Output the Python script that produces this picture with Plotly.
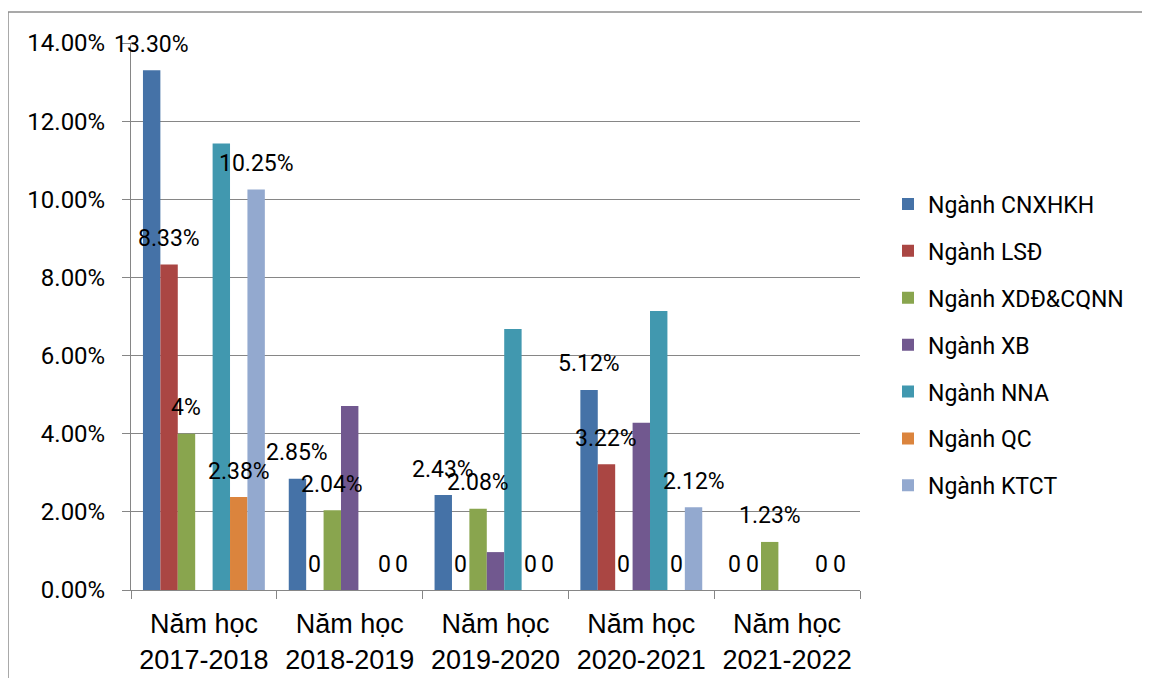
import plotly.graph_objects as go

categories = ["Năm học<br>2017-2018", "Năm học<br>2018-2019", "Năm học<br>2019-2020",
              "Năm học<br>2020-2021", "Năm học<br>2021-2022"]

series_names = ["Ngành CNXHKH", "Ngành LSĐ", "Ngành XDĐ&CQNN", "Ngành XB",
                "Ngành NNA", "Ngành QC", "Ngành KTCT"]

cnxhkh = [0.1330, 0.0285, 0.0243, 0.0512, 0]
lsd = [0.0833, 0, 0, 0.0322, 0]
xdd = [0.0400, 0.0204, 0.0208, 0, 0.0123]
xb = [None, 0.0471, 0.0097, 0.0428, None]
nna = [0.1143, None, 0.0668, 0.0714, None]
qc = [0.0238, 0, 0, 0, 0]
ktct = [0.1025, 0, 0, 0.0212, 0]

cnxhkh_labels = ["13.30%", "2.85%", "2.43%", "5.12%", "0"]
lsd_labels = ["8.33%", "0", "0", "3.22%", "0"]
xdd_labels = ["4%", "2.04%", "2.08%", "0", "1.23%"]
xb_labels = ["", "", "", "", ""]
nna_labels = ["", "", "", "", ""]
qc_labels = ["2.38%", "0", "0", "0", "0"]
ktct_labels = ["10.25%", "0", "0", "2.12%", "0"]

colors = ["#4572A7", "#AA4643", "#89A54E", "#71588F", "#4198AF", "#DB843D", "#93A9CF"]

values = [cnxhkh, lsd, xdd, xb, nna, qc, ktct]
labels = [cnxhkh_labels, lsd_labels, xdd_labels, xb_labels, nna_labels, qc_labels, ktct_labels]

# page has an 8px body margin; compensate so the plot area lands where the reference has it
W, H = 1142, 670
ml, mr, mt, mb = 123, 290, 35, 88
pw, ph = W - ml - mr, H - mt - mb
BARGAP = 0.164
n_series = len(series_names)
bar_px = pw / len(categories) * (1 - BARGAP) / n_series

fig = go.Figure()
annotations = []
for i, (name, vals, labs, col) in enumerate(zip(series_names, values, labels, colors)):
    fig.add_trace(go.Bar(
        name=name, x=categories, y=vals,
        marker=dict(color=col, line=dict(width=0)),
        legendgroup=name,
    ))
    for cat, v, t in zip(categories, vals, labs):
        if t and v is not None:
            annotations.append(dict(
                x=cat, y=v, xref="x", yref="y", text=t, showarrow=False,
                xshift=(i - (n_series - 1) / 2) * bar_px, yshift=26,
                yanchor="middle", xanchor="center",
                font=dict(family="Roboto", size=23, color="#000000"),
            ))

fig.update_layout(
    width=W, height=H,
    margin=dict(l=ml, r=mr, t=mt, b=mb, pad=0, autoexpand=False),
    paper_bgcolor="white", plot_bgcolor="white",
    barmode="group", bargap=BARGAP, bargroupgap=0,
    font=dict(family="Roboto", size=23, color="#000000"),
    legend=dict(
        x=(880 - ml) / pw, xanchor="left",
        y=(582 - 337) / ph, yanchor="middle",
        traceorder="grouped", tracegroupgap=14,
        font=dict(family="Roboto", size=23, color="#000000"),
        bgcolor="rgba(0,0,0,0)",
    ),
    xaxis=dict(
        range=[-0.5, len(categories) - 0.5], autorange=False,
        showline=True, linecolor="#868686", linewidth=1,
        ticks="outside", tickson="boundaries", ticklen=8, tickcolor="#868686",
        tickfont=dict(family="Liberation Sans", size=27, color="#000000"),
        showgrid=False, ticklabelstandoff=10, automargin=False,
    ),
    yaxis=dict(
        range=[0, 0.14], autorange=False, dtick=0.02, tickformat=".2%",
        showline=True, linecolor="#868686", linewidth=1,
        ticks="outside", ticklen=8, tickcolor="#868686",
        showgrid=True, gridcolor="#868686", gridwidth=1,
        tickfont=dict(family="Roboto", size=24, color="#000000"),
        ticklabelstandoff=12, zeroline=False, automargin=False,
    ),
    annotations=annotations,
    shapes=[
        dict(type="line", xref="paper", yref="paper",
             x0=(0 - ml) / pw, x1=1.5, y0=(582 - 4) / ph, y1=(582 - 4) / ph,
             line=dict(color="#8c8c8c", width=1.5)),
        dict(type="line", xref="paper", yref="paper",
             x0=(0 - ml) / pw, x1=(0 - ml) / pw, y0=-0.5, y1=(582 - 4) / ph,
             line=dict(color="#8c8c8c", width=1.5)),
    ],
)

fig.write_html("out.html")
